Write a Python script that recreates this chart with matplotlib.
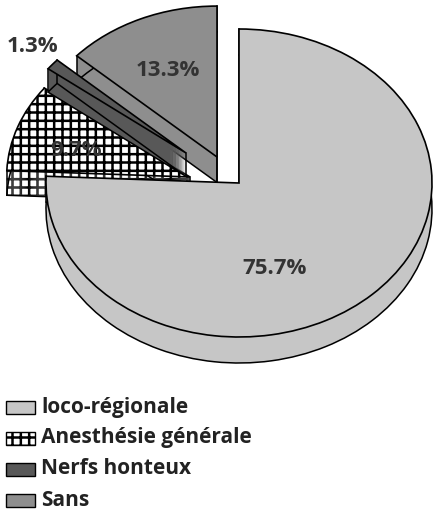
import matplotlib
matplotlib.use("Agg")

import matplotlib.pyplot as plt
from matplotlib.patches import Wedge, Rectangle
from matplotlib.transforms import Affine2D
import numpy as np

# data
labels = ["loco-régionale", "Anesthésie générale", "Nerfs honteux", "Sans"]
values = [75.7, 9.7, 1.3, 13.3]
pct_labels = ["75.7%", "9.7%", "1.3%", "13.3%"]

# style / layout (pixel coords, y down)
W, H = 433, 519
colors = ["#c6c6c6", "#ffffff", "#585858", "#8e8e8e"]
hatches = [None, "++", None, None]
centers = [(239, 183), (190, 177), (186, 153), (217, 157)]  # slice tips, exploded
scales = [1.0, 0.95, 0.9, 0.98]
RX, RY, T = 193, 154, 26
draw_order = [3, 1, 2, 0]
label_pos = [(275, 268), (76, 150), (33, 46), (168, 70)]
legend_rows = [407, 438, 469, 500]

plt.rcParams["hatch.color"] = "black"
plt.rcParams["hatch.linewidth"] = 1.8
FONT = ["Open Sans", "DejaVu Sans"]

fig = plt.figure(figsize=(W / 100, H / 100), dpi=100)
ax = fig.add_axes([0, 0, 1, 1])
ax.set_xlim(0, W)
ax.set_ylim(0, H)
ax.axis("off")


def Y(y):
    return H - y


# angles clockwise from 12 o'clock
fracs = np.array(values) / sum(values)
ends = np.cumsum(fracs) * 360
starts = ends - fracs * 360

z = [1]


def nextz():
    z[0] += 1
    return z[0]


def wedge(i, drop, **kw):
    cx, cy = centers[i]
    rx, ry = RX * scales[i], RY * scales[i]
    tr = Affine2D().scale(rx, ry).translate(cx, Y(cy) - drop) + ax.transData
    w = Wedge((0, 0), 1, 90 - ends[i], 90 - starts[i], transform=tr,
              zorder=nextz(), **kw)
    ax.add_patch(w)
    return w


for i in draw_order:
    cx, cy = centers[i]
    s = scales[i]
    t = T * s
    # side walls as stacked layers
    for d in np.arange(t, 0, -1.0):
        wedge(i, d, facecolor=colors[i], hatch=hatches[i], linewidth=0)
    # bottom outline
    wedge(i, t, fill=False, edgecolor="black", linewidth=1.1)
    # vertical edges at tip and outer corners
    ax.plot([cx, cx], [Y(cy), Y(cy) - t], color="black", lw=1.1, zorder=nextz())
    for a in (starts[i], ends[i]):
        px = cx + RX * s * np.sin(np.radians(a))
        py = Y(cy) + RY * s * np.cos(np.radians(a))
        ax.plot([px, px], [py, py - t], color="black", lw=1.1, zorder=nextz())
    # top face
    wedge(i, 0, facecolor=colors[i], hatch=hatches[i], edgecolor="black",
          linewidth=1.2)

for (x, y), txt in zip(label_pos, pct_labels):
    ax.text(x, Y(y), txt, ha="center", va="center", fontsize=16,
            fontweight="bold", color="#333333", family=FONT, zorder=nextz())

# legend
for i, row in enumerate(legend_rows):
    ax.add_patch(Rectangle((6, Y(row) - 6.5), 29, 13, facecolor=colors[i],
                           hatch=hatches[i], edgecolor="black", linewidth=1.0))
    ax.text(41, Y(row), labels[i], ha="left", va="center", fontsize=15,
            fontweight="bold", color="#222222", family=FONT)

fig.savefig("out.png", dpi=100)
